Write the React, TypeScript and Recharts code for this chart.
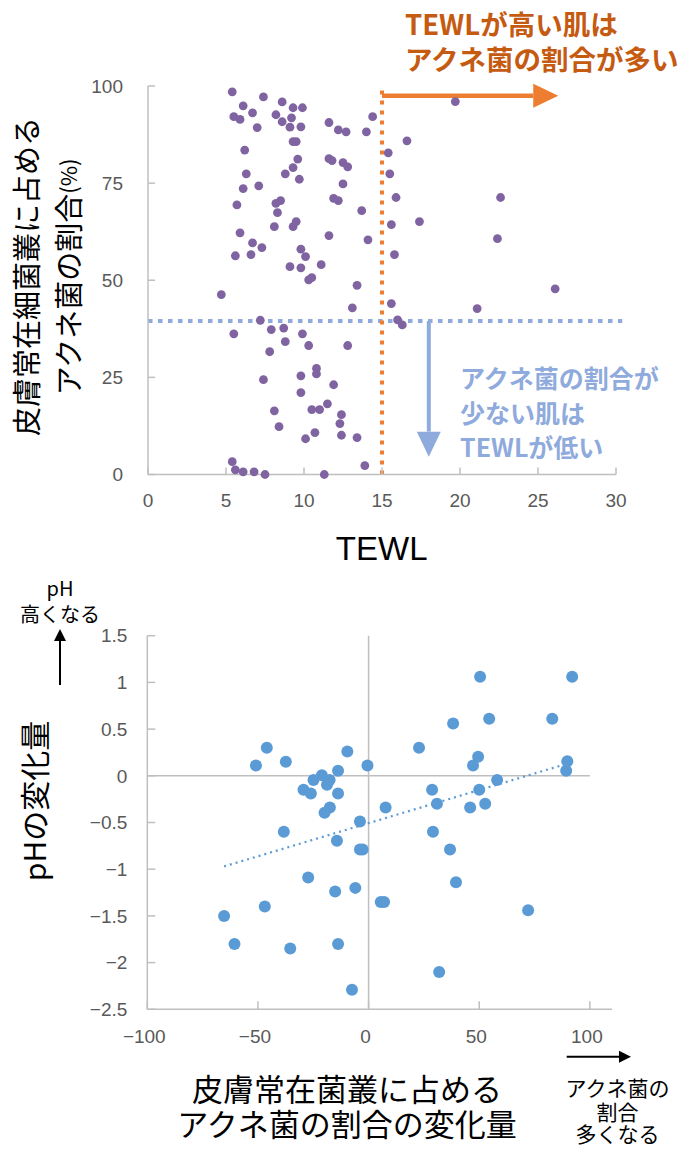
import { ScatterChart, Scatter, XAxis, YAxis, ReferenceLine } from 'recharts'

// top chart: TEWL vs share of C. acnes (%)
const tewl = [
  5.4, 7.4, 8.6, 6.1, 6.7, 9.3, 9.9, 5.5, 5.9, 8.2, 9.2, 8.6, 9.1, 9.8, 7.0, 11.6, 12.2, 12.7, 14.0, 14.4,
  9.3, 9.5, 6.2, 15.4, 9.6, 11.6, 11.8, 12.5, 12.8, 9.3, 8.8, 6.3, 15.5, 9.7, 6.1, 7.1, 12.5, 15.9, 5.7, 8.2,
  8.5, 11.9, 12.2, 8.3, 13.7, 15.6, 8.1, 9.3, 9.5, 5.9, 11.6, 14.1, 6.7, 7.3, 5.6, 6.6, 9.8, 10.1, 15.8, 11.1,
  9.1, 9.8, 10.3, 10.5, 13.4, 4.7, 15.6, 13.1, 16.0, 16.3, 7.2, 5.5, 7.9, 8.7, 9.9, 8.8, 10.3, 12.8, 7.8, 10.8,
  10.8, 7.4, 9.8, 11.9, 9.8, 11.5, 8.1, 10.5, 11.0, 12.4, 12.3, 8.4, 10.7, 10.1, 12.4, 13.4, 5.4, 5.6, 6.1, 6.8,
  7.5, 11.3, 13.9, 19.7, 16.6, 22.6, 17.4, 22.4, 26.1, 21.1,
]
const acnesShare = [
  98.5, 97.2, 95.9, 94.9, 93.1, 94.4, 94.4, 92.1, 91.4, 92.6, 91.8, 90.8, 89.4, 89.5, 89.3, 90.6, 88.7, 88.2, 88.2, 92.1,
  85.7, 85.7, 83.5, 82.8, 81.2, 81.3, 80.8, 80.3, 79.2, 79.0, 77.4, 77.4, 77.4, 76.0, 73.6, 74.3, 74.8, 71.3, 69.4, 69.8,
  70.5, 71.1, 70.5, 67.4, 67.9, 64.3, 63.8, 63.8, 65.1, 62.2, 61.5, 60.4, 59.6, 58.4, 56.3, 56.6, 58.0, 56.1, 56.6, 54.0,
  53.5, 53.2, 50.1, 50.7, 48.7, 46.3, 44.0, 42.9, 39.8, 38.5, 39.7, 36.2, 37.3, 37.7, 36.2, 34.2, 33.2, 33.2, 31.6, 27.3,
  25.9, 24.4, 25.4, 23.1, 21.1, 18.2, 16.4, 16.7, 16.7, 15.4, 13.1, 12.3, 10.8, 9.2, 10.1, 9.5, 3.3, 1.2, 0.7, 0.7,
  0, 0, 2.3, 96.0, 85.9, 71.3, 65.1, 60.7, 47.8, 42.7,
]
const topXTicks = [0, 5, 10, 15, 20, 25, 30]
const topYTicks = [0, 25, 50, 75, 100]
const tewlThreshold = 15
const shareThreshold = 39.5
const highArrow = { from: 15, to: 26.3, at: 97.5 }
const lowArrow = { from: 39.5, to: 4.6, at: 18 }

// bottom chart: change in C. acnes share vs change in pH
const acnesChange = [
  -46.0, -50.9, -37.4, -9.6, -13.8, -0.5, -21.1, -24.9, -17.6, -18.8, -29.4, -26.1, -13.8, -17.5, -19.9, -3.9,
  -38.3, -14.3, -3.9, -2.7, -27.3, -15.1, -6.0, -46.9, -65.3, -60.6, -35.4, -13.8, -7.5,
  50.4, 92.0, 38.2, 54.5, 83.0, 22.8, 49.5, 47.2, 89.8, 89.3, 58.1, 28.7, 50.0, 30.9, 52.7, 45.9, 7.7,
  29.1, 36.8, 39.5, 5.5, 7.0, 72.1, 31.9,
]
const phChange = [
  0.3, 0.11, 0.15, 0.26, 0.055, 0.11, 0.005, -0.045, -0.045, -0.095, -0.15, -0.19, -0.19, -0.34, -0.395, -0.49,
  -0.6, -0.695, -0.79, -0.79, -1.09, -1.24, -1.2, -1.4, -1.5, -1.8, -1.85, -1.8, -2.29,
  1.06, 1.06, 0.56, 0.61, 0.61, 0.3, 0.205, 0.11, 0.155, 0.055, -0.045, -0.15, -0.15, -0.3, -0.3, -0.34, -0.34,
  -0.6, -0.79, -1.14, -1.35, -1.35, -1.44, -2.1,
]
const bottomXTicks = [-100, -50, 0, 50, 100]
const bottomYTicks = [-2.5, -2, -1.5, -1, -0.5, 0, 0.5, 1, 1.5]
const trendStart = { x: -65.3, y: -0.97 }
const trendEnd = { x: 89.8, y: 0.13 }

const topData = tewl.map((x, i) => ({ x, y: acnesShare[i] }))
const bottomData = acnesChange.map((x, i) => ({ x, y: phChange[i] }))

const JP = '"Noto Sans CJK JP", "Noto Sans", sans-serif'
const NUM = '"Liberation Sans", Arial, sans-serif'
const axisGray = '#bfbfbf'
const tickStyle = { fill: '#595959', fontSize: 19, fontFamily: NUM }
const minus = (v: number) => String(v).replace('-', '\u2212')

function arrow(color: string, width: number, head: number, half: number) {
  return (p: any) => {
    const { x1, y1, x2, y2 } = p
    const len = Math.hypot(x2 - x1, y2 - y1) || 1
    const ux = (x2 - x1) / len
    const uy = (y2 - y1) / len
    const bx = x2 - ux * head
    const by = y2 - uy * head
    return (
      <g>
        <line x1={x1} y1={y1} x2={bx} y2={by} stroke={color} strokeWidth={width} />
        <polygon
          points={`${x2},${y2} ${bx - uy * half},${by + ux * half} ${bx + uy * half},${by - ux * half}`}
          fill={color}
        />
      </g>
    )
  }
}

function dot(r: number, fill: string) {
  return (p: any) => <circle cx={p.cx} cy={p.cy} r={r} fill={fill} />
}

// several lines in one text element
function Lines({ x, y, gap, lines, ...rest }: any) {
  return (
    <text x={x} y={y} dominantBaseline="central" {...rest}>
      {lines.map((s: string, i: number) => (
        <tspan key={i} x={x} dy={i === 0 ? 0 : gap[i - 1]}>
          {s}
        </tspan>
      ))}
    </text>
  )
}

export default function App() {
  return (
    <div style={{ position: 'absolute', left: 0, top: 0, width: 700, height: 1164, background: '#fff' }}>
      <div style={{ position: 'absolute', left: 0, top: 0 }}>
        <ScatterChart width={700} height={580} margin={{ top: 86, right: 84, bottom: 75.5, left: 88 }}>
          <XAxis
            type="number"
            dataKey="x"
            domain={[0, 30]}
            ticks={topXTicks}
            height={30}
            tick={tickStyle}
            tickSize={-7}
            tickMargin={26.5}
            axisLine={{ stroke: axisGray, strokeWidth: 1.5 }}
            tickLine={{ stroke: axisGray, strokeWidth: 1.5 }}
          />
          <YAxis
            type="number"
            dataKey="y"
            domain={[0, 100]}
            ticks={topYTicks}
            width={60}
            tick={tickStyle}
            tickSize={-7}
            tickMargin={32}
            axisLine={{ stroke: axisGray, strokeWidth: 1.5 }}
            tickLine={{ stroke: axisGray, strokeWidth: 1.5 }}
          />
          <Scatter data={topData} fill="#8064a2" shape={dot(4.4, '#8064a2')} isAnimationActive={false} />
          <ReferenceLine
            segment={[{ x: 0, y: shareThreshold }, { x: 30.4, y: shareThreshold }]}
            stroke="#8faadc"
            strokeWidth={4}
            strokeDasharray="4.5 5.5"
            ifOverflow="visible"
          />
          <ReferenceLine
            segment={[{ x: tewlThreshold, y: 0 }, { x: tewlThreshold, y: 100 }]}
            stroke="#ed7d31"
            strokeWidth={4}
            strokeDasharray="4 6"
            ifOverflow="visible"
          />
          <ReferenceLine
            segment={[{ x: highArrow.from, y: highArrow.at }, { x: highArrow.to, y: highArrow.at }]}
            stroke="#ed7d31"
            shape={arrow('#ed7d31', 4.5, 25, 12)}
            ifOverflow="visible"
          />
          <ReferenceLine
            segment={[{ x: lowArrow.at, y: lowArrow.from }, { x: lowArrow.at, y: lowArrow.to }]}
            stroke="#8faadc"
            shape={arrow('#8faadc', 4, 25, 12)}
            ifOverflow="visible"
          />
        </ScatterChart>
      </div>

      <div style={{ position: 'absolute', left: 0, top: 580 }}>
        <ScatterChart width={700} height={584} margin={{ top: 55.7, right: 88, bottom: 124.7, left: 87.3 }}>
          <XAxis
            type="number"
            dataKey="x"
            domain={[-100, 110]}
            ticks={bottomXTicks}
            height={30}
            tick={{ ...tickStyle, dx: -3 }}
            tickFormatter={minus}
            tickSize={-8}
            tickMargin={28}
            axisLine={{ stroke: axisGray, strokeWidth: 1.5 }}
            tickLine={{ stroke: axisGray, strokeWidth: 1.5 }}
          />
          <YAxis
            type="number"
            dataKey="y"
            domain={[-2.5, 1.5]}
            ticks={bottomYTicks}
            width={60}
            tick={tickStyle}
            tickFormatter={minus}
            tickSize={-8}
            tickMargin={28}
            axisLine={{ stroke: axisGray, strokeWidth: 1.5 }}
            tickLine={{ stroke: axisGray, strokeWidth: 1.5 }}
          />
          <ReferenceLine
            segment={[{ x: -100, y: 0 }, { x: 100, y: 0 }]}
            stroke={axisGray}
            strokeWidth={1.5}
          />
          <ReferenceLine x={0} stroke={axisGray} strokeWidth={1.5} />
          <Scatter data={bottomData} fill="#5b9bd5" shape={dot(6, '#5b9bd5')} isAnimationActive={false} />
          <ReferenceLine
            segment={[trendStart, trendEnd]}
            stroke="#5b9bd5"
            strokeWidth={2.2}
            strokeDasharray="2 4"
          />
        </ScatterChart>
      </div>

      <svg
        width={700}
        height={1164}
        style={{ position: 'absolute', left: 0, top: 0, pointerEvents: 'none' }}
        fontFamily={JP}
      >
        {/* top chart texts */}
        <Lines
          x={405}
          y={22.5}
          gap={[35]}
          lines={['TEWLが高い肌は', 'アクネ菌の割合が多い']}
          fontWeight="bold"
          fontSize={27.5}
          fill="#c55a11"
        />
        <Lines
          x={460}
          y={376.5}
          gap={[35, 34.5]}
          lines={['アクネ菌の割合が', '少ない肌は', 'TEWLが低い']}
          fontWeight="bold"
          fontSize={25}
          fill="#8faadc"
        />
        <text
          x={25}
          y={276.5}
          transform="rotate(-90 25 276.5)"
          textAnchor="middle"
          dominantBaseline="central"
          fontSize={29}
          fill="#000"
        >
          皮膚常在細菌叢に占める
        </text>
        <text
          x={67}
          y={277}
          transform="rotate(-90 67 277)"
          textAnchor="middle"
          dominantBaseline="central"
          fontSize={29}
          fill="#000"
        >
          アクネ菌の割合<tspan fontSize={22}>(%)</tspan>
        </text>
        <text x={381.7} y={560} textAnchor="middle" fontSize={33} fontFamily={NUM} fill="#000">
          TEWL
        </text>

        {/* bottom chart texts */}
        <Lines x={60} y={587} gap={[26]} lines={['pH', '高くなる']} textAnchor="middle" fontSize={20} />
        <line x1={60} y1={685} x2={60} y2={640} stroke="#000" strokeWidth={2} />
        <polygon points="60,629 54,641 66,641" fill="#000" />
        <text
          x={33}
          y={801}
          transform="rotate(-90 33 801)"
          textAnchor="middle"
          dominantBaseline="central"
          fontSize={30}
        >
          pHの変化量
        </text>
        <Lines
          x={347}
          y={1086.7}
          gap={[35]}
          lines={['皮膚常在菌叢に占める', 'アクネ菌の割合の変化量']}
          textAnchor="middle"
          fontSize={31}
        />
        <line x1={566.7} y1={1056.7} x2={619} y2={1056.7} stroke="#000" strokeWidth={2} />
        <polygon points="631,1056.7 619,1050.7 619,1062.7" fill="#000" />
        <Lines
          x={617.5}
          y={1086.7}
          gap={[24, 22.6]}
          lines={['アクネ菌の', '割合', '多くなる']}
          textAnchor="middle"
          fontSize={21}
        />
      </svg>
    </div>
  )
}
